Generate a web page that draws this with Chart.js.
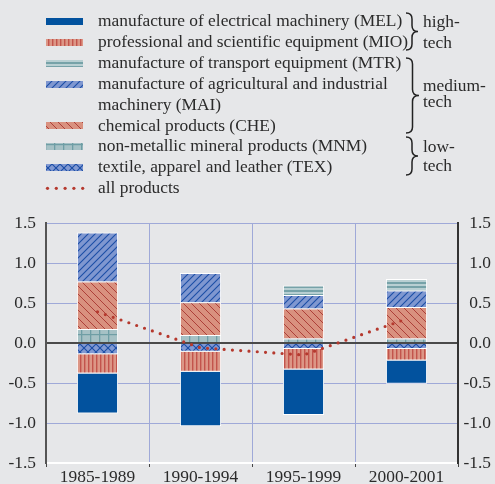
<!DOCTYPE html>
<html><head><meta charset="utf-8">
<script src="https://cdn.jsdelivr.net/npm/chart.js@4/dist/chart.umd.min.js"></script>
<style>
html,body{margin:0;padding:0;background:#e6e7e9;width:495px;height:484px;overflow:hidden;position:relative}
#c{position:absolute;left:0;top:0}
#leg{position:absolute;left:98px;top:10px;font-family:"Liberation Serif","Times New Roman",serif;font-size:17.4px;line-height:20.9px;color:#2b2b2b;white-space:nowrap}
.grp{position:absolute;font-family:"Liberation Serif","Times New Roman",serif;font-size:17.4px;line-height:20px;color:#2b2b2b;white-space:nowrap}
#sw{position:absolute;left:0;top:0}
#br{position:absolute;left:0;top:0}
</style></head>
<body>
<canvas id="c" width="495" height="484"></canvas>
<canvas id="sw" width="100" height="200"></canvas>
<svg id="br" width="495" height="200"></svg>
<div id="leg"></div>
<div class="grp" style="left:423px;top:11px;line-height:21px">high-<br>tech</div>
<div class="grp" style="left:423px;top:78px;line-height:15.5px">medium-<br>tech</div>
<div class="grp" style="left:423px;top:137px;line-height:19px">low-<br>tech</div>
<script>
// ---- data ----
const categories = ['1985-1989', '1990-1994', '1995-1999', '2000-2001'];
const MEL = [-0.50, -0.68, -0.57, -0.29];
const MIO = [-0.24, -0.25, -0.255, -0.145];
const MTR = [0, 0, 0.12, 0.146];
const MAI = [0.61, 0.365, 0.17, 0.205];
const CHE = [0.595, 0.41, 0.375, 0.395];
const MNM = [0.175, 0.10, 0.055, 0.055];
const TEX = [-0.14, -0.11, -0.075, -0.075];
const ALL = [0.39, -0.06, -0.15, 0.30];
const legendLabels = [
  'manufacture of electrical machinery (MEL)',
  'professional and scientific equipment (MIO)',
  'manufacture of transport equipment (MTR)',
  'manufacture of agricultural and industrial<br>machinery (MAI)',
  'chemical products (CHE)',
  'non-metallic mineral products (MNM)',
  'textile, apparel and leather (TEX)',
  'all products'
];

const FONT = '"Liberation Serif","Times New Roman",serif';
const ctx = document.getElementById('c').getContext('2d');

function tile(w, h, draw) {
  const c = document.createElement('canvas'); c.width = w; c.height = h;
  const g = c.getContext('2d'); draw(g, w, h);
  return ctx.createPattern(c, 'repeat');
}
function diag(g, s, dir) {
  g.beginPath();
  if (dir > 0) { // "/"
    for (let k = -1; k <= 1; k++) { g.moveTo(k * s - 1, s + 1); g.lineTo(k * s + s + 1, -1); }
  } else { // "\"
    for (let k = -1; k <= 1; k++) { g.moveTo(k * s - 1, -1); g.lineTo(k * s + s + 1, s + 1); }
  }
  g.stroke();
}
const COL = {
  MEL: '#02529e',
  MIO: tile(4, 4, (g) => { g.fillStyle = '#dc9686'; g.fillRect(0, 0, 4, 4); g.fillStyle = '#c2544c'; g.fillRect(0, 0, 1.4, 4); }),
  MTR: tile(4, 4, (g) => { g.fillStyle = '#b8cfd2'; g.fillRect(0, 0, 4, 4); g.fillStyle = '#76a2a8'; g.fillRect(0, 2, 4, 2); }),
  MAI: tile(7, 7, (g) => { g.fillStyle = '#7f97d0'; g.fillRect(0, 0, 7, 7); g.strokeStyle = '#1c4ea6'; g.lineWidth = 1.1; diag(g, 7, 1); }),
  CHE: tile(8, 8, (g) => { g.fillStyle = '#d9917f'; g.fillRect(0, 0, 8, 8); g.strokeStyle = '#ad4039'; g.lineWidth = 1.0; diag(g, 8, -1); }),
  MNM: tile(9, 10, (g) => { g.fillStyle = '#a6c1c5'; g.fillRect(0, 0, 9, 10); g.fillStyle = '#6f9ea5'; g.fillRect(0, 0, 1.3, 10); g.fillRect(0, 4, 9, 1.2); }),
  TEX: tile(8, 8, (g) => { g.fillStyle = '#8199d2'; g.fillRect(0, 0, 8, 8); g.strokeStyle = '#1c4ea6'; g.lineWidth = 1.1; diag(g, 8, 1); diag(g, 8, -1); }),
  ALL: '#b5392e'
};

function bar(label, data, color) {
  return { type: 'bar', label, data, backgroundColor: color, borderColor: '#ffffff', borderWidth: 1,
    stack: 'bars', order: 1, barPercentage: 0.4, categoryPercentage: 1 };
}

const tickFont = { family: FONT, size: 17.4 };
new Chart(ctx, {
  type: 'bar',
  data: {
    labels: categories,
    datasets: [
      bar('TEX', TEX, COL.TEX),
      bar('MNM', MNM, COL.MNM),
      bar('MIO', MIO, COL.MIO),
      bar('CHE', CHE, COL.CHE),
      bar('MAI', MAI, COL.MAI),
      bar('MTR', MTR, COL.MTR),
      bar('MEL', MEL, COL.MEL),
      { type: 'line', label: 'all products', data: ALL, borderColor: COL.ALL, borderWidth: 3.2,
        borderDash: [0, 8.3], borderCapStyle: 'round', pointRadius: 0, fill: false, tension: 0,
        stack: 'line', order: 0 }
    ]
  },
  options: {
    responsive: false, animation: false,
    layout: { padding: { top: 223, right: 4, left: 0, bottom: 0 } },
    plugins: { legend: { display: false }, tooltip: { enabled: false } },
    scales: {
      x: {
        stacked: true, offset: true,
        grid: { offset: true, color: '#9fa9d8', lineWidth: 1, tickColor: '#444', tickLength: 4 },
        border: { color: '#ffffff', width: 2 },
        ticks: { font: tickFont, color: '#2b2b2b', padding: 0, maxRotation: 0 },
        afterFit: (s) => { s.height = 21; }
      },
      y: {
        stacked: true, min: -1.5, max: 1.5,
        ticks: { stepSize: 0.5, callback: (v) => v.toFixed(1), padding: 10, font: tickFont, color: '#2b2b2b' },
        grid: { color: (c) => (c.tick && c.tick.value === 0 ? '#4a4a4a' : '#9fa9d8'),
                lineWidth: (c) => (c.tick && c.tick.value === 0 ? 2 : 1), drawTicks: false },
        border: { color: '#555555', width: 2 },
        afterFit: (s) => { s.width = 46; }
      },
      y2: {
        position: 'right', min: -1.5, max: 1.5,
        ticks: { stepSize: 0.5, callback: (v) => v.toFixed(1), crossAlign: 'far', padding: 0, font: tickFont, color: '#2b2b2b' },
        grid: { drawOnChartArea: false, drawTicks: false },
        border: { color: '#333333', width: 2 },
        afterFit: (s) => { s.width = 33; }
      }
    }
  }
});

// ---- legend ----
document.getElementById('leg').innerHTML = legendLabels.join('<br>');
const sw = document.getElementById('sw').getContext('2d');
const rowsY = [21.2, 42.3, 63.5, 84.6, 125.3, 146.2, 167.1, 188.3];
const swCols = [COL.MEL, COL.MIO, COL.MTR, COL.MAI, COL.CHE, COL.MNM, COL.TEX];
swCols.forEach((col, i) => {
  sw.fillStyle = col;
  sw.fillRect(46, Math.round(rowsY[i] - 3.5), 37, 7);
});
sw.fillStyle = COL.ALL;
for (let k = 0; k < 5; k++) { sw.beginPath(); sw.arc(47.5 + k * 8.8, rowsY[7], 1.6, 0, Math.PI * 2); sw.fill(); }

// braces
function brace(x0, y1, y2, w) {
  const m = (y1 + y2) / 2, xm = x0 + w * 0.5, r = Math.min(6, (y2 - y1) / 5);
  return `M${x0},${y1} Q${xm},${y1} ${xm},${y1 + r} L${xm},${m - r} Q${xm},${m} ${x0 + w},${m} ` +
         `Q${xm},${m} ${xm},${m + r} L${xm},${y2 - r} Q${xm},${y2} ${x0},${y2}`;
}
const svg = document.getElementById('br');
[[406, 13, 50, 12], [406, 58, 133, 13], [406, 137, 175, 12]].forEach(([x, a, b, w]) => {
  const p = document.createElementNS('http://www.w3.org/2000/svg', 'path');
  p.setAttribute('d', brace(x, a, b, w));
  p.setAttribute('fill', 'none'); p.setAttribute('stroke', '#222'); p.setAttribute('stroke-width', '1.5');
  svg.appendChild(p);
});
</script>
</body></html>
